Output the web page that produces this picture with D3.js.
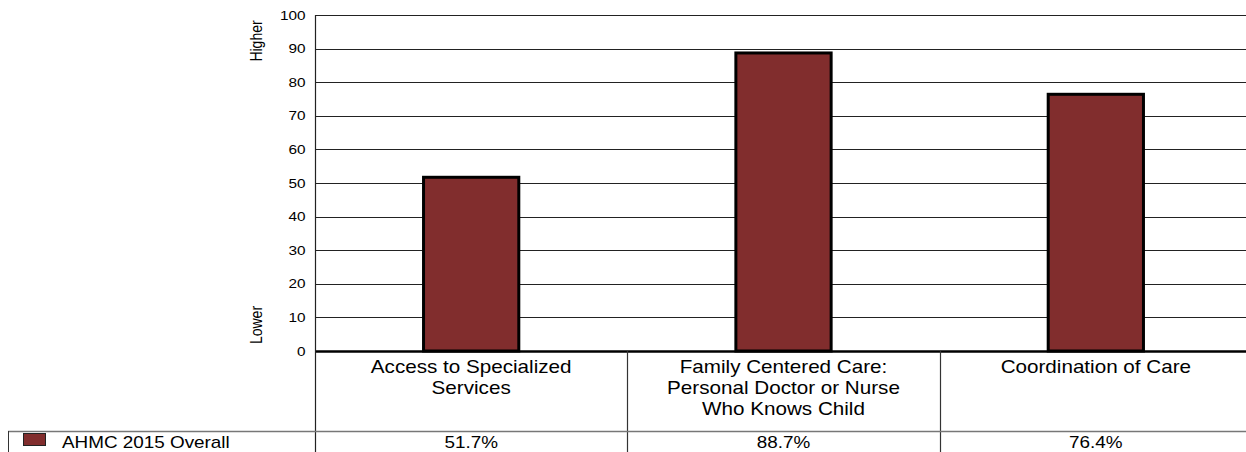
<!DOCTYPE html>
<html><head><meta charset="utf-8">
<script src="https://cdn.jsdelivr.net/npm/d3@7"></script>
<style>
body{margin:0;background:#fff;}
text{font-family:"Liberation Sans",Arial,sans-serif;fill:#000;}
</style></head>
<body><svg id="c" width="1246" height="452"></svg>
<script>
const categories = [
  ["Access to Specialized","Services"],
  ["Family Centered Care:","Personal Doctor or Nurse","Who Knows Child"],
  ["Coordination of Care"]
];
const categoryKeys = ["access","family","coord"];
const seriesName = "AHMC 2015 Overall";
const values = [51.7, 88.7, 76.4];
const yTicks = [0,10,20,30,40,50,60,70,80,90,100];
const axisHigh = "Higher", axisLow = "Lower";

(function(){
const svg = d3.select("#c");
const pL = 315, pR = 1252, pT = 15, pB = 351, tableBottom = 452, legendTop = 431;
const barColor = "#812d2d";
const SX = 1.18;

const x = d3.scaleBand().domain(categoryKeys).range([pL, pR]).padding(0);
const y = d3.scaleLinear().domain([0,100]).range([pB, pT]);

// gridlines
const grid = svg.append("g").attr("transform",`translate(${pL},0)`)
  .call(d3.axisLeft(y).tickValues(yTicks).tickSize(-(pR-pL)).tickFormat(""));
grid.select(".domain").remove();
grid.selectAll("line").attr("stroke","#222").attr("stroke-width",1).attr("shape-rendering","crispEdges");

// y axis labels
const ya = svg.append("g").attr("transform",`translate(${pL},0)`)
  .call(d3.axisLeft(y).tickValues(yTicks).tickSize(0).tickPadding(8));
ya.select(".domain").remove();
ya.selectAll("text").attr("font-size","13px").attr("font-family","Liberation Sans, Arial, sans-serif")
  .attr("transform",`scale(${SX},1)`);

// Higher / Lower
svg.append("text").attr("transform",`translate(262,41) rotate(-90) scale(1,${SX})`).attr("text-anchor","middle")
  .attr("font-size","14px").text(axisHigh);
svg.append("text").attr("transform",`translate(262,325) rotate(-90) scale(1,${SX})`).attr("text-anchor","middle")
  .attr("font-size","14px").text(axisLow);

// bars
const bw = x.bandwidth()*0.305;
svg.selectAll("rect.bar").data(values).enter().append("rect").attr("class","bar")
  .attr("x",(d,i)=>x(categoryKeys[i]) + (x.bandwidth()-bw)/2)
  .attr("y",d=>y(d))
  .attr("width",bw)
  .attr("height",d=>y(0)-y(d))
  .attr("fill",barColor).attr("stroke","#000").attr("stroke-width",3);

// baseline
svg.append("line").attr("x1",pL).attr("x2",pR).attr("y1",pB+0.5).attr("y2",pB+0.5)
  .attr("stroke","#000").attr("stroke-width",2.5);

// left axis line extends through table
svg.append("line").attr("x1",pL+0.5).attr("x2",pL+0.5).attr("y1",pT).attr("y2",tableBottom)
  .attr("stroke","#222").attr("stroke-width",1.2);

// column separators
categoryKeys.slice(1).forEach(k=>{
  svg.append("line").attr("x1",Math.round(x(k))+0.5).attr("x2",Math.round(x(k))+0.5)
    .attr("y1",pB).attr("y2",tableBottom).attr("stroke","#333").attr("stroke-width",1.2);
});

// legend row top line
svg.append("line").attr("x1",8).attr("x2",1246).attr("y1",legendTop+0.5).attr("y2",legendTop+0.5)
  .attr("stroke","#777").attr("stroke-width",1.5);
svg.append("line").attr("x1",8.5).attr("x2",8.5).attr("y1",legendTop).attr("y2",tableBottom)
  .attr("stroke","#333").attr("stroke-width",1);

// category labels
categories.forEach((lines,i)=>{
  const cx = x(categoryKeys[i]) + x.bandwidth()/2;
  const t = svg.append("text").attr("text-anchor","middle").attr("font-size","17.5px")
    .attr("transform",`translate(${cx},0) scale(${SX},1)`);
  lines.forEach((l,j)=>{
    t.append("tspan").attr("x",0).attr("y",373.5 + j*21).text(l);
  });
});

// legend swatch + name
svg.append("rect").attr("x",23.5).attr("y",433.5).attr("width",22).attr("height",12)
  .attr("fill",barColor).attr("stroke","#222").attr("stroke-width",1);
svg.append("text").attr("transform",`translate(62,447.5) scale(${SX},1)`).attr("font-size","16px").text(seriesName);

// values row
values.forEach((v,i)=>{
  svg.append("text").attr("transform",`translate(${x(categoryKeys[i]) + x.bandwidth()/2},447.5) scale(${SX},1)`)
    .attr("text-anchor","middle").attr("font-size","16px").text(v.toFixed(1)+"%");
});
})();
</script></body></html>
